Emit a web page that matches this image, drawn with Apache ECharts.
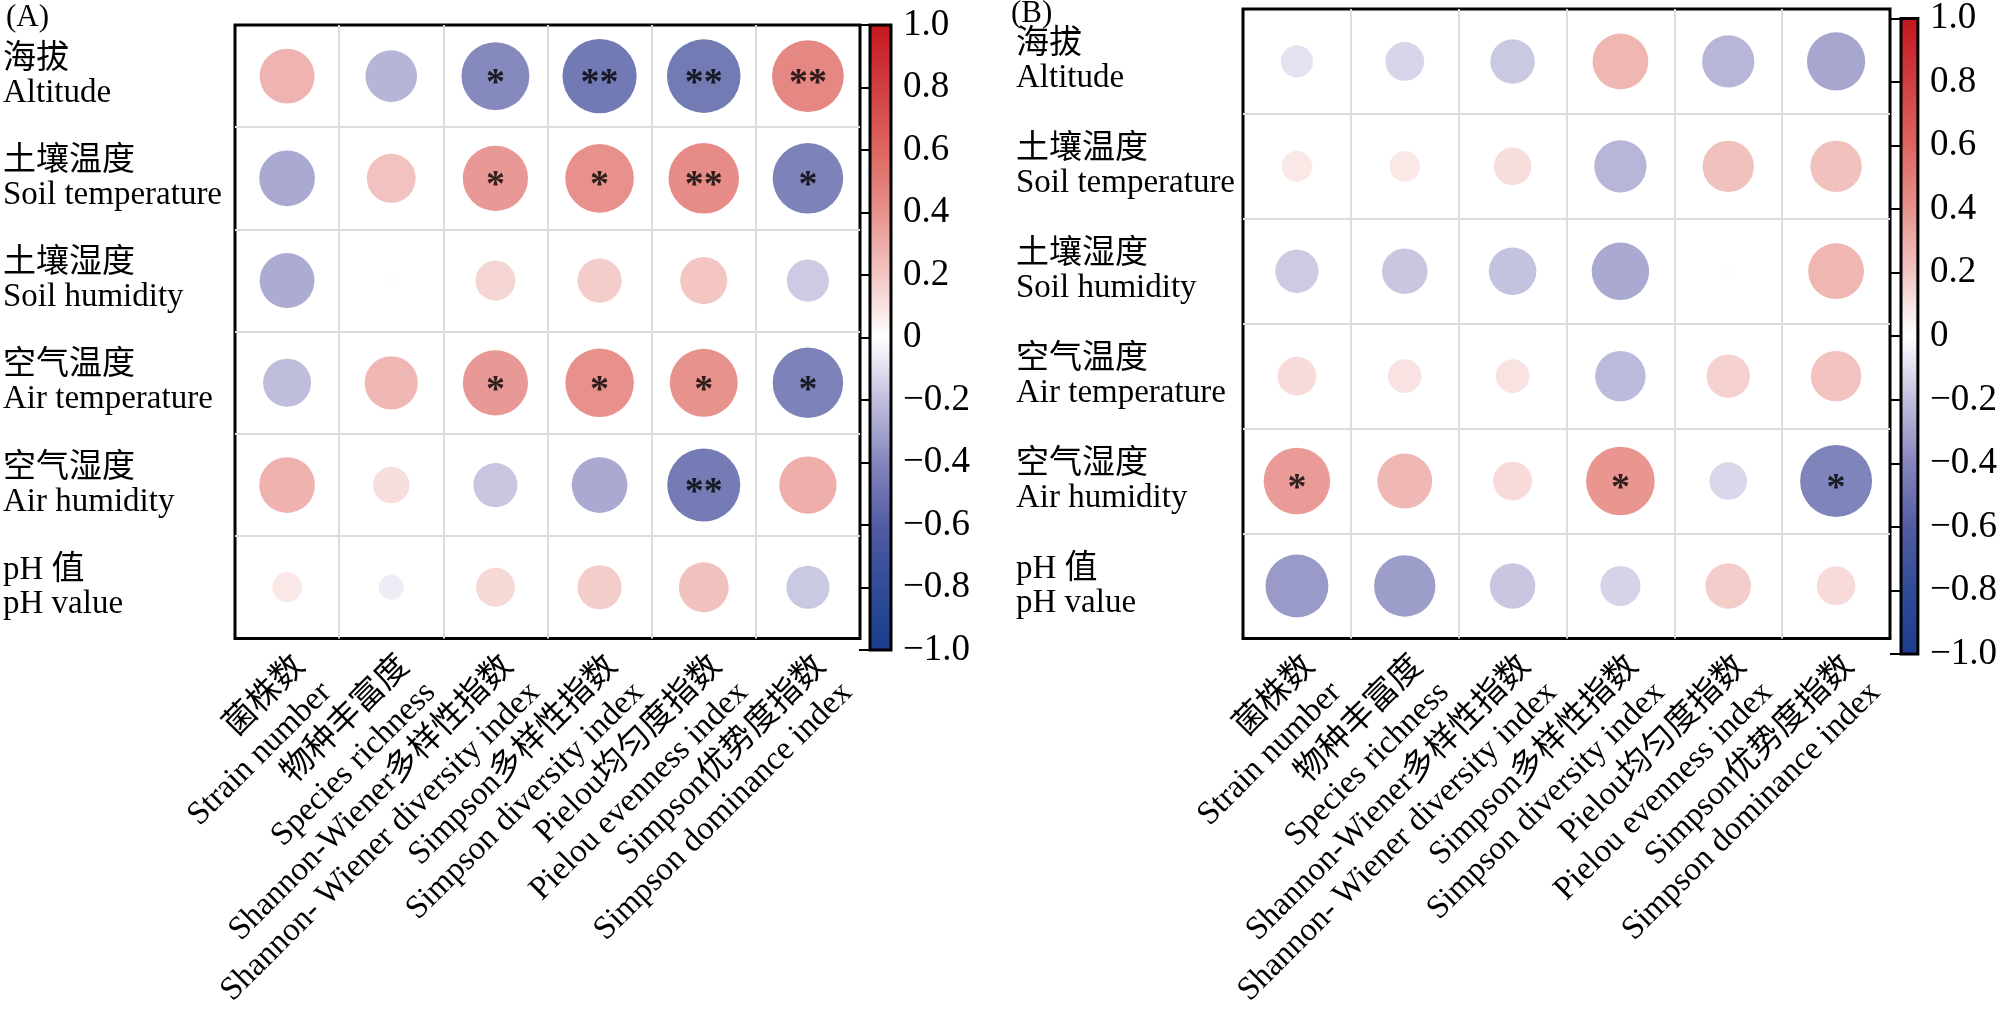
<!DOCTYPE html>
<html>
<head>
<meta charset="utf-8">
<script src="https://cdn.jsdelivr.net/npm/echarts@6/dist/echarts.min.js"></script>
<style>
html,body{margin:0;padding:0;background:#fff;}
#chart{width:2000px;height:1011px;}
</style>
</head>
<body>
<div id="chart"></div>
<script>
// ---------- data ----------
const rowsZh = ['海拔', '土壤温度', '土壤湿度', '空气温度', '空气湿度', 'pH 值'];
const rowsEn = ['Altitude', 'Soil temperature', 'Soil humidity', 'Air temperature', 'Air humidity', 'pH value'];
const colsZh = ['菌株数', '物种丰富度', 'Shannon-Wiener多样性指数', 'Simpson多样性指数', 'Pielou均匀度指数', 'Simpson优势度指数'];
const colsEn = ['Strain number', 'Species richness', 'Shannon- Wiener diversity index', 'Simpson diversity index', 'Pielou evenness index', 'Simpson dominance index'];

// correlation values, panel A (rows x cols)
const valuesA = [
  [0.34, -0.30, -0.52, -0.62, -0.61, 0.58],
  [-0.35, 0.27, 0.48, 0.53, 0.56, -0.56],
  [-0.34, 0.01, 0.18, 0.22, 0.25, -0.20],
  [-0.26, 0.32, 0.48, 0.53, 0.52, -0.56],
  [0.35, 0.15, -0.22, -0.35, -0.60, 0.37],
  [0.10, -0.07, 0.17, 0.22, 0.28, -0.21]
];
const sigA = [
  ['', '', '*', '**', '**', '**'],
  ['', '', '*', '*', '**', '*'],
  ['', '', '', '', '', ''],
  ['', '', '*', '*', '*', '*'],
  ['', '', '', '', '**', ''],
  ['', '', '', '', '', '']
];
// correlation values, panel B
const valuesB = [
  [-0.11, -0.16, -0.21, 0.33, -0.29, -0.36],
  [0.10, 0.10, 0.15, -0.29, 0.28, 0.28],
  [-0.20, -0.22, -0.24, -0.35, 0.01, 0.33],
  [0.16, 0.12, 0.12, -0.27, 0.20, 0.27],
  [0.47, 0.32, 0.16, 0.50, -0.15, -0.55],
  [-0.42, -0.40, -0.22, -0.17, 0.22, 0.16]
];
const sigB = [
  ['', '', '', '', '', ''],
  ['', '', '', '', '', ''],
  ['', '', '', '', '', ''],
  ['', '', '', '', '', ''],
  ['*', '', '', '*', '', '*'],
  ['', '', '', '', '', '']
];
const colorbarRange = [-1, 1];
const colorbarStep = 0.2;

// ---------- style ----------
const FONT = "'Liberation Serif', 'Noto Sans CJK SC', serif";
const palette = ['#1b3d8d', '#2f4b97', '#525ba3', '#8585bd', '#c0bedd', '#ffffff',
                 '#f2c5c3', '#e8928c', '#de6560', '#d03e42', '#c4151d'];

const panels = [
  {grid: {left: 232, top: 25, width: 628, height: 625}, bar: {left: 870, top: 25, width: 21, height: 625}, labelX: 0, values: valuesA, sig: sigA},
  {grid: {left: 1243, top: 9, width: 647, height: 643}, bar: {left: 1901, top: 10, width: 21, height: 644}, labelX: 1016, values: valuesB, sig: sigB}
];

const rowLabels = rowsZh.map((z, i) => z + '\n' + rowsEn[i]);
const colLabels = colsZh.map((z, i) => z + '\n' + colsEn[i]);

function fmtTick(v) {
  if (Math.abs(v) < 1e-9) return '0';
  return (v < 0 ? '\u2212' : '') + Math.abs(v).toFixed(1);
}

const grids = [], xAxes = [], yAxes = [], series = [];
panels.forEach((p, k) => {
  const gi = grids.length;
  grids.push(Object.assign({show: true, borderColor: '#000', borderWidth: 3, backgroundColor: '#fff'}, p.grid));
  grids.push(Object.assign({show: false}, p.bar));
  const cell = p.grid.width / colsZh.length;
  xAxes.push({
    type: 'category', gridIndex: gi, data: colLabels, boundaryGap: true,
    axisLine: {show: false}, axisTick: {show: false},
    splitLine: {show: true, showMinLine: false, showMaxLine: false, lineStyle: {color: '#dcdcdc', width: 2}},
    axisLabel: {rotate: 45, interval: 0, margin: 10, align: 'right', verticalAlign: 'top',
      fontFamily: FONT, fontSize: 33, lineHeight: 37, color: '#000'}
  });
  yAxes.push({
    type: 'category', gridIndex: gi, data: rowLabels, inverse: true, boundaryGap: true,
    axisLine: {show: false}, axisTick: {show: false},
    splitLine: {show: true, showMinLine: false, showMaxLine: false, lineStyle: {color: '#dcdcdc', width: 2}},
    axisLabel: {interval: 0, align: 'left', margin: p.grid.left - p.labelX,
      fontFamily: FONT, fontSize: 33, lineHeight: 34, color: '#000'}
  });
  xAxes.push({type: 'value', gridIndex: gi + 1, min: 0, max: 1, show: false});
  yAxes.push({
    type: 'value', gridIndex: gi + 1, min: colorbarRange[0], max: colorbarRange[1], interval: colorbarStep,
    position: 'right',
    axisLine: {show: false}, splitLine: {show: false},
    axisTick: {show: true, inside: true, length: 11, lineStyle: {color: '#000', width: 2}},
    axisLabel: {show: true, margin: 12, formatter: fmtTick, fontFamily: FONT, fontSize: 37, color: '#000'}
  });
  const data = [];
  p.values.forEach((row, r) => row.forEach((v, c) => data.push([c, r, v, p.sig[r][c]])));
  series.push({
    type: 'scatter', xAxisIndex: xAxes.length - 2, yAxisIndex: yAxes.length - 2,
    data: data, symbol: 'circle',
    symbolSize: (val) => 0.9 * Math.sqrt(Math.abs(val[2])) * cell,
    label: {show: true, position: 'inside', formatter: (q) => q.data[3], color: '#000',
      fontFamily: FONT, fontSize: 38, fontWeight: 'bold', offset: [0, 8]},
    z: 3
  });
  series.push({
    type: 'custom', xAxisIndex: xAxes.length - 1, yAxisIndex: yAxes.length - 1,
    data: [[0, colorbarRange[1], 1, colorbarRange[0]]],
    renderItem: (params, api) => {
      const a = api.coord([api.value(0), api.value(1)]);
      const b = api.coord([api.value(2), api.value(3)]);
      const stops = palette.slice().reverse().map((c, i) => ({offset: i / (palette.length - 1), color: c}));
      return {
        type: 'rect',
        shape: {x: a[0], y: a[1], width: b[0] - a[0], height: b[1] - a[1]},
        style: {fill: {type: 'linear', x: 0, y: 0, x2: 0, y2: 1, colorStops: stops}, stroke: '#000', lineWidth: 3}
      };
    },
    z: 1
  });
});

const chart = echarts.init(document.getElementById('chart'));
chart.setOption({
  backgroundColor: '#fff',
  animation: false,
  title: [
    {text: '(A)', left: 6, top: 2, textStyle: {fontFamily: FONT, fontSize: 31, fontWeight: 'normal', color: '#000'}, padding: 0},
    {text: '(B)', left: 1011, top: -2, textStyle: {fontFamily: FONT, fontSize: 31, fontWeight: 'normal', color: '#000'}, padding: 0}
  ],
  visualMap: {
    type: 'continuous', show: false, min: colorbarRange[0], max: colorbarRange[1], dimension: 2,
    seriesIndex: [0, 2], inRange: {color: palette}
  },
  grid: grids,
  xAxis: xAxes,
  yAxis: yAxes,
  series: series
});
</script>
</body>
</html>
